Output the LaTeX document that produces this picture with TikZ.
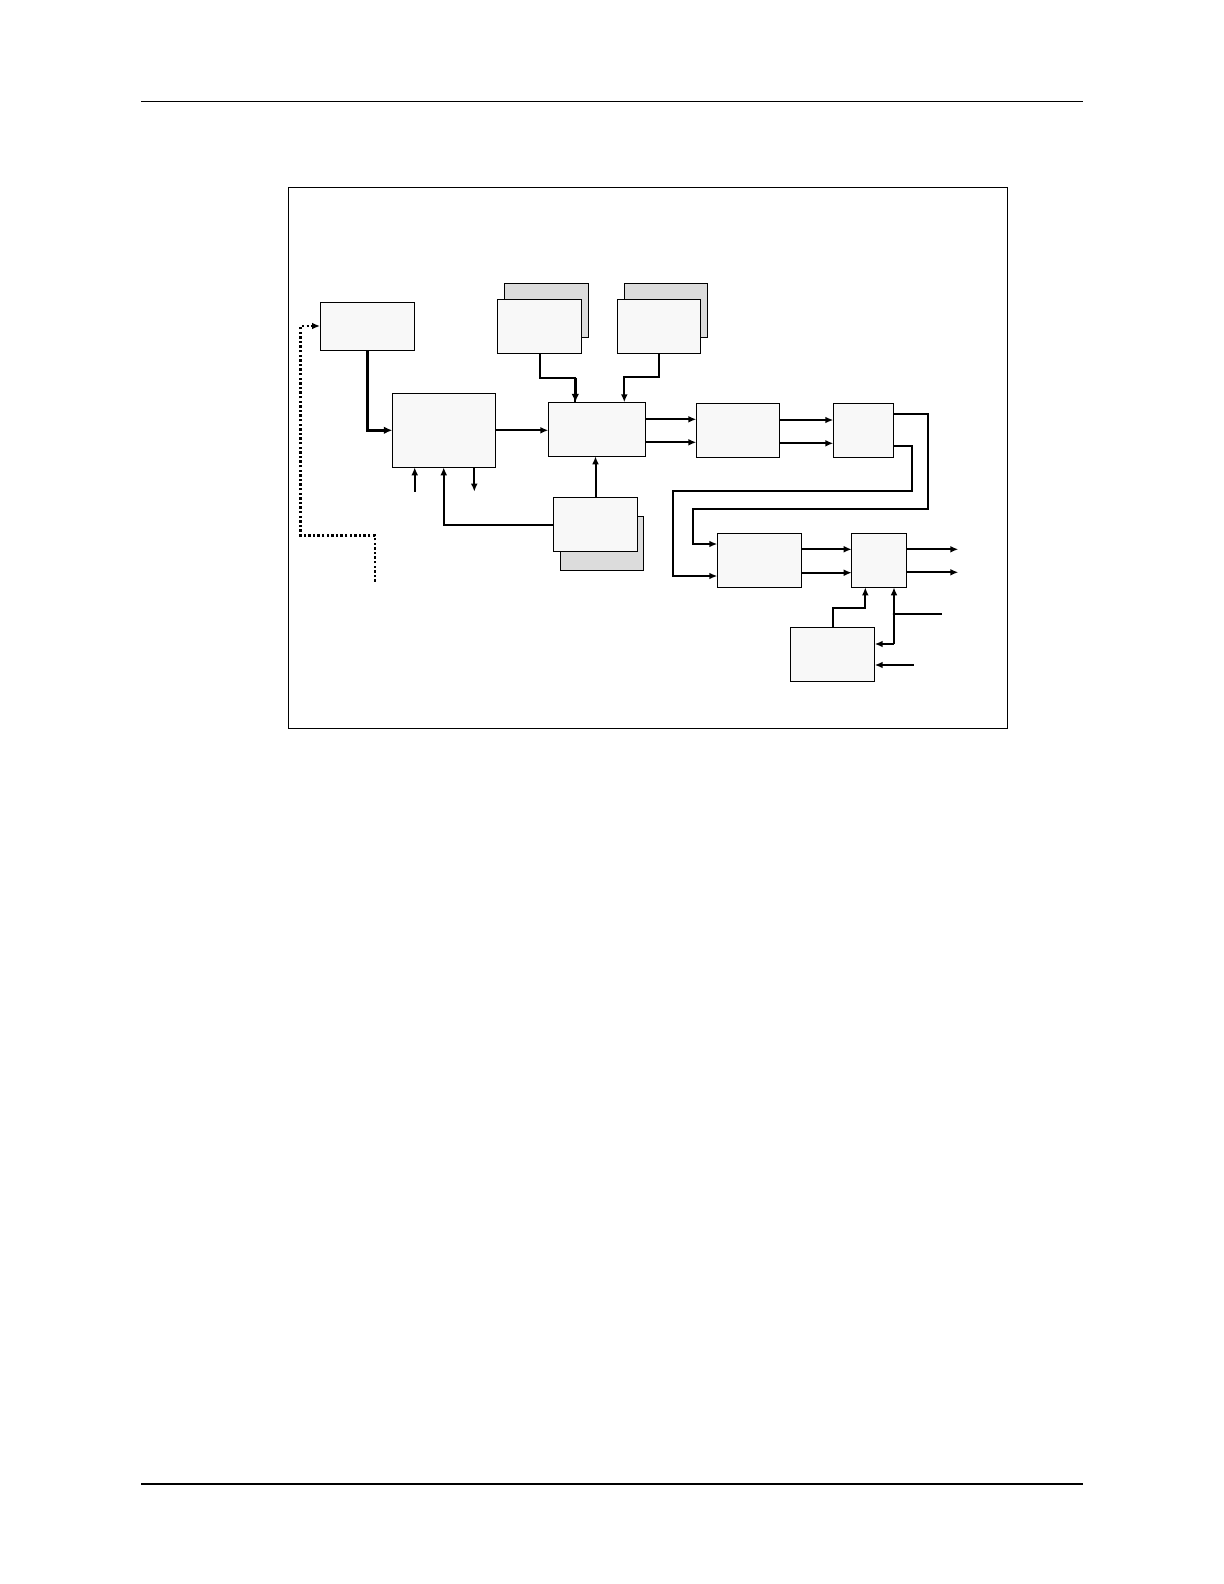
\documentclass[tikz,border=0pt]{standalone}
\usetikzlibrary{arrows.meta,calc}
\definecolor{boxfill}{HTML}{F8F8F8}
\definecolor{shadowfill}{HTML}{DCDCDC}
\begin{document}
\begin{tikzpicture}[x=0.5pt,y=-0.5pt,
  box/.style={draw,line width=0.5pt,fill=boxfill,inner sep=0pt,outer sep=0pt,anchor=north west},
  shadowbox/.style={box,fill=shadowfill},
  conn/.style={line width=1pt,-{Latex[length=4pt,width=3.4pt]}},
  plainline/.style={line width=1pt},
  heavyconn/.style={line width=1.5pt,-{Latex[length=4.2pt,width=3.8pt]}},
  dotconn/.style={line width=1.3pt,dash pattern=on 1.2pt off 1.1pt,-{Latex[length=4pt,width=3.4pt]}}]
\useasboundingbox (0,0) rectangle (1224,1584);
% page rules
\coordinate (tl) at (141,101.3); \coordinate (tr) at (1083,101.3);
\coordinate (bl) at (141,1483.7); \coordinate (br) at (1083,1483.7);
\draw[line width=0.55pt] (tl) -- (tr);
\draw[line width=0.85pt] (bl) -- (br);
% frame
\node[draw,line width=0.5pt,inner sep=0pt,outer sep=0pt,anchor=north west,minimum width=359.5pt,minimum height=270.5pt] (frame) at (288,187) {};
% boxes
\node[box,minimum width=47pt,minimum height=24pt] (A) at (320,302) {};
\node[box,minimum width=51.5pt,minimum height=37pt] (B) at (392.3,393.3) {};
\node[shadowbox,minimum width=42.2pt,minimum height=27.2pt] (C1s) at (504.3,283.3) {};
\node[box,minimum width=42.2pt,minimum height=27pt] (C1) at (497.3,299.3) {};
\node[shadowbox,minimum width=41.5pt,minimum height=27pt] (C2s) at (624.3,283.3) {};
\node[box,minimum width=41.5pt,minimum height=26.9pt] (C2) at (617.3,299.3) {};
\node[box,minimum width=48.7pt,minimum height=27pt] (D) at (548.3,402.3) {};
\node[shadowbox,minimum width=41.5pt,minimum height=27pt] (Es) at (560.3,516.3) {};
\node[box,minimum width=42.2pt,minimum height=27.2pt] (E) at (553.3,497.3) {};
\node[box,minimum width=41.5pt,minimum height=27pt] (F) at (696.3,403.3) {};
\node[box,minimum width=30.2pt,minimum height=27pt] (G) at (833.3,403.3) {};
\node[box,minimum width=42.2pt,minimum height=27pt] (H) at (717.3,533.3) {};
\node[box,minimum width=27.5pt,minimum height=27pt] (I) at (851.7,533.3) {};
\node[box,minimum width=42.2pt,minimum height=27pt] (J) at (790.3,627.3) {};
% A -> B
\draw[heavyconn] (A.south) |- (B.west);
% B -> D
\draw[conn] (B.east) -- (B.east -| D.west);
% C1 -> D
\draw[plainline] (C1.south) -- ++(0,24.4) -| ($(D.north west)+(27,0)$);
\draw[heavyconn] ($(D.north west)+(27,-24.6)$) -- ($(D.north west)+(27,0)$);
% C2 -> D
\draw[conn] (C2.south) -- ++(0,24) -| ($(D.north west)+(76,0)$);
% E -> D, E -> B
\draw[conn] (E.north) -- (E.north |- D.south);
\draw[conn] (E.west) -| ($(B.south west)+(51.4,0)$);
% B bottom in/out
\coordinate (bin) at ($(B.south west)+(22.4,24.4)$);
\draw[conn] (bin) -- (bin |- B.south);
\coordinate (bout) at ($(B.south west)+(82,24.4)$);
\draw[conn] (bout |- B.south) -- (bout);
% dotted feedback
\coordinate (dotstart) at (375,581.7);
\draw[dotconn] (dotstart) -- ++(0,-46) -- ++(-74.3,0) |- (A.west);
% D -> F
\coordinate (d1) at ($(D.north east)+(0,17)$);
\coordinate (d2) at ($(D.north east)+(0,40)$);
\draw[conn] (d1) -- (d1 -| F.west);
\draw[conn] (d2) -- (d2 -| F.west);
% F -> G
\coordinate (f1) at ($(F.north east)+(0,16.7)$);
\coordinate (f2) at ($(F.north east)+(0,40)$);
\draw[conn] (f1) -- (f1 -| G.west);
\draw[conn] (f2) -- (f2 -| G.west);
% G -> H
\coordinate (g1) at ($(G.north east)+(0,10.4)$);
\coordinate (g2) at ($(G.north east)+(0,42.7)$);
\coordinate (h1) at ($(H.north west)+(0,10.7)$);
\coordinate (h2) at ($(H.north west)+(0,42.7)$);
\draw[conn] (g1) -- ++(34,0) |- (693,509.3) |- (h1);
\draw[conn] (g2) -- ++(18.3,0) |- (673,490.7) |- (h2);
% H -> I
\coordinate (hh1) at ($(H.north east)+(0,16)$);
\coordinate (hh2) at ($(H.north east)+(0,39.4)$);
\draw[conn] (hh1) -- (hh1 -| I.west);
\draw[conn] (hh2) -- (hh2 -| I.west);
% I outputs
\coordinate (o1) at (958.3,549.3);
\coordinate (o2) at (958.3,572.3);
\draw[conn] (o1 -| I.east) -- (o1);
\draw[conn] (o2 -| I.east) -- (o2);
% J connections
\draw[conn] (J.north) |- ($(I.south west)+(13.6,20.7)$) -- ($(I.south west)+(13.6,0)$);
\coordinate (jn) at ($(I.south west)+(42.3,56.7)$);
\draw[conn] (jn) -- (jn |- I.south);
\draw[conn] (jn) -- (jn -| J.east);
\coordinate (sigin) at (941.7,614);
\draw[plainline] (sigin) -- (sigin -| jn);
\fill (sigin -| jn) circle (1.3);
\coordinate (jin) at (913.7,665);
\draw[conn] (jin) -- (jin -| J.east);
\end{tikzpicture}
\end{document}
